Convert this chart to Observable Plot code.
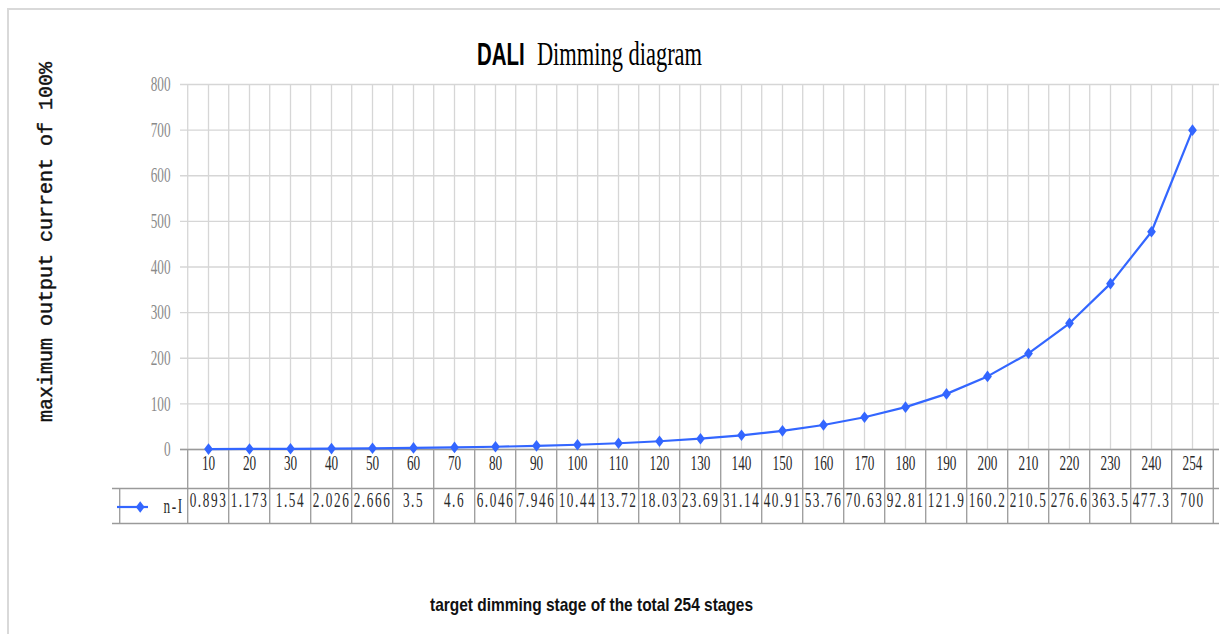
<!DOCTYPE html>
<html>
<head>
<meta charset="utf-8">
<script src="https://cdn.jsdelivr.net/npm/d3@7"></script>
<script src="https://cdn.jsdelivr.net/npm/@observablehq/plot@0.6"></script>
<style>
  html, body { margin: 0; padding: 0; background: #fff; }
  #chart { position: relative; width: 1220px; height: 634px; overflow: hidden; }
  #border { position: absolute; left: 7px; top: 8px; width: 1300px; height: 800px;
            border-top: 2px solid #d9d9d9; border-left: 2px solid #d9d9d9; }
  #chart svg { position: absolute; left: 0; top: 0; }
</style>
</head>
<body>
<div id="chart"><div id="border"></div></div>
<script>
// ---- data ----
const stages = ["10","20","30","40","50","60","70","80","90","100","110","120","130","140","150","160","170","180","190","200","210","220","230","240","254"];
const current = [0.893,1.173,1.54,2.026,2.666,3.5,4.6,6.046,7.946,10.44,13.72,18.03,23.69,31.14,40.91,53.76,70.63,92.81,121.9,160.2,210.5,276.6,363.5,477.3,700];
const yTicks = [0,100,200,300,400,500,600,700,800];
const seriesName = "n-I";
const titleMain = "DALI";
const titleRest = " Dimming diagram";
const yTitle = "maximum output current of 100%";
const xTitle = "target dimming stage of the total 254 stages";

// ---- layout ----
const W = 1220, H = 634, ML = 180, MR = 1, MT = 84, MB = 185;
const step = (W - ML - MR) / stages.length;
const frameH = H - MT - MB;
const rows = stages.map((s, i) => ({stage: s, value: current[i]}));
const lastStage = stages[stages.length - 1];
const grid = "#d6d6d6", border = "#9a9a9a", blue = "#3366ff";
const tableInk = "#2a2a2a", valueInk = "#2a2a2b";
const serif = "'Liberation Serif', 'Times New Roman', serif";
const narrowSize = 21;
const diamond = {draw(ctx) { ctx.moveTo(0, -5.8); ctx.lineTo(4.4, 0); ctx.lineTo(0, 5.8); ctx.lineTo(-4.4, 0); ctx.closePath(); }};

const svg = Plot.plot({
  width: W, height: H,
  marginLeft: ML, marginRight: MR, marginTop: MT, marginBottom: MB,
  style: {background: "none"},
  x: {type: "point", domain: stages, padding: 0.5, axis: null},
  y: {domain: [0, 800], axis: null},
  marks: [
    // plot-area grid
    Plot.ruleY(yTicks, {y: d => d, stroke: grid, strokeWidth: 1.3}),
    Plot.ruleX(stages, {x: d => d, stroke: grid, strokeWidth: 1.3}),
    Plot.ruleX(stages, {x: d => d, dx: -step / 2, stroke: grid, strokeWidth: 1.3}),
    Plot.ruleX([lastStage], {x: d => d, dx: step / 2, stroke: grid, strokeWidth: 1.3}),
    // data table borders
    Plot.ruleX(stages, {x: d => d, dx: -step / 2, stroke: border, strokeWidth: 1.3, insetTop: frameH, insetBottom: -74}),
    Plot.ruleX([lastStage], {x: d => d, dx: step / 2, stroke: border, strokeWidth: 1.3, insetTop: frameH, insetBottom: -74}),
    Plot.ruleY([0], {y: d => d, stroke: border, strokeWidth: 1.3}),
    Plot.ruleY([0], {y: d => d, dy: 39, insetLeft: -68, stroke: border, strokeWidth: 1.3}),
    Plot.ruleY([0], {y: d => d, dy: 74, insetLeft: -68, stroke: border, strokeWidth: 1.3}),
    Plot.ruleX([stages[0]], {x: d => d, dx: -step / 2 - 68, stroke: border, strokeWidth: 1.3, insetTop: frameH + 39, insetBottom: -74}),
    // series
    Plot.line(rows, {x: "stage", y: "value", stroke: blue, strokeWidth: 2.2}),
    Plot.dot(rows, {x: "stage", y: "value", symbol: diamond, fill: blue, stroke: "none"}),
    // y tick labels
    Plot.text(yTicks, {y: d => d, text: d => String(d), frameAnchor: "left", dx: -10, textAnchor: "end",
      fontSize: narrowSize, fontFamily: serif, fill: "#8a8a8a"}),
    // table text
    Plot.text(rows, {x: "stage", text: "stage", frameAnchor: "bottom", dy: 20,
      fontSize: narrowSize, fontFamily: serif, fill: tableInk}),
    Plot.text(rows, {x: "stage", text: d => String(d.value), frameAnchor: "bottom", dy: 57,
      fontSize: narrowSize, fontFamily: serif, fill: valueInk}),
    // legend in table
    Plot.ruleY([0], {y: d => d, dy: 57.5, insetLeft: -(ML - 117), insetRight: (W - MR) - 148, stroke: blue, strokeWidth: 2.2}),
    Plot.dot([seriesName], {x: () => stages[0], y: () => 0, dx: -step / 2 - 47.5, dy: 57.5, symbol: diamond, fill: blue, stroke: "none"}),
    Plot.text([seriesName], {x: () => stages[0], y: () => 0, text: d => d, dx: -step / 2 - 4, dy: 57, textAnchor: "end",
      fontSize: narrowSize, fontFamily: serif, fill: valueInk})
  ]
});

// condensed look of the original's table / tick font
const root = d3.select(svg);
root.selectAll(`g[font-size='${narrowSize}'] text`).each(function() {
  let t = this.getAttribute("transform");
  if (!t) {
    const x = this.getAttribute("x") || 0, y = this.getAttribute("y") || 0;
    this.removeAttribute("x"); this.removeAttribute("y");
    t = `translate(${x},${y})`;
  }
  this.setAttribute("transform", t + " scale(0.63,1)");
});
root.selectAll(`g[fill='${valueInk}']`).attr("letter-spacing", 2.5);

// title
const tt = root.append("text").attr("transform", "translate(477,65) scale(0.66,1)").attr("text-anchor", "start").attr("fill", "#000");
tt.append("tspan").attr("font-family", "'Liberation Sans', Arial, sans-serif").attr("font-weight", "bold").attr("font-size", 31).text(titleMain);
tt.append("tspan").attr("font-family", serif).attr("font-size", 34).attr("dx", 10).text(titleRest);
// y title
root.append("text").attr("transform", "translate(51.5,242) rotate(-90)").attr("text-anchor", "middle")
  .attr("font-family", "'Liberation Mono', 'Courier New', monospace")
  .attr("font-size", 20).attr("fill", "#111").attr("stroke", "#111").attr("stroke-width", 0.4).text(yTitle);
// x title
root.append("text").attr("transform", "translate(591.5,611) scale(0.86,1)").attr("text-anchor", "middle")
  .attr("font-family", "'Liberation Sans', Arial, sans-serif").attr("font-weight", "bold")
  .attr("font-size", 18).attr("fill", "#111").text(xTitle);

document.getElementById("chart").appendChild(svg);
</script>
</body>
</html>
